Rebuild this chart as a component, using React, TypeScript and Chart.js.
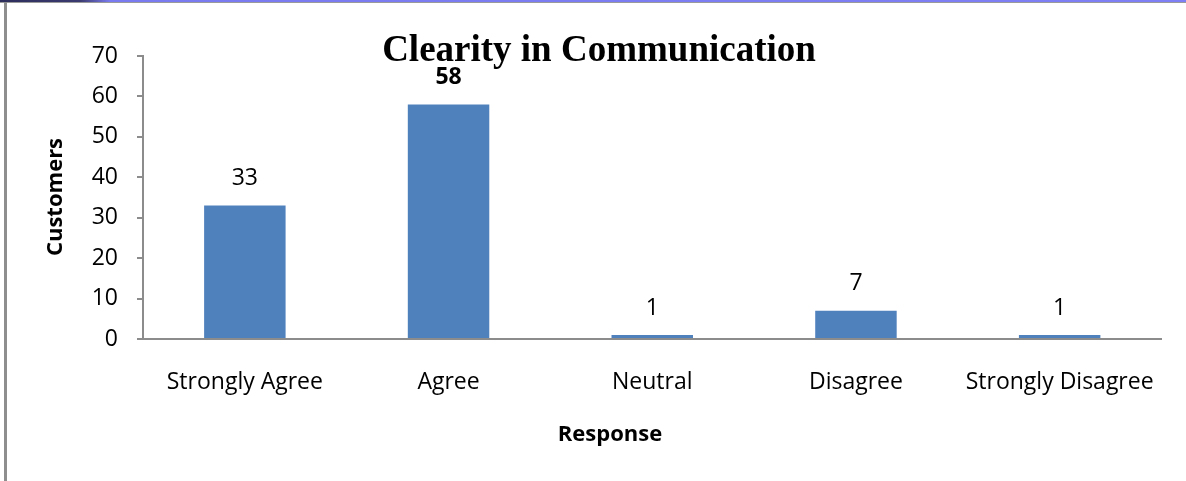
import React, { useEffect, useRef } from "react";
import { Chart, registerables } from "chart.js";

Chart.register(...registerables);

const categories: string[] = ["Strongly Agree", "Agree", "Neutral", "Disagree", "Strongly Disagree"];
const customers: number[] = [33, 58, 1, 7, 1];
const yTicks: number[] = [0, 10, 20, 30, 40, 50, 60, 70];
const chartTitle = "Clearity in Communication";
const xTitle = "Response";
const yTitle = "Customers";

const SANS = "'Open Sans', 'DejaVu Sans', sans-serif";

const overlayPlugin = {
  id: "overlay",
  afterDatasetsDraw(chart: any) {
    const ctx = chart.ctx;
    const meta = chart.getDatasetMeta(0);
    const data = chart.data.datasets[0].data as number[];
    const maxVal = Math.max(...data);
    ctx.save();
    ctx.fillStyle = "#000";
    ctx.textAlign = "center";
    ctx.textBaseline = "middle";
    meta.data.forEach((bar: any, i: number) => {
      const v = data[i];
      ctx.font = `${v === maxVal ? "bold " : ""}23px ${SANS}`;
      ctx.fillText(String(v), bar.x, bar.y - 27);
    });
    // title
    ctx.font = "bold 37px 'Liberation Serif', 'Times New Roman', serif";
    ctx.textBaseline = "alphabetic";
    ctx.fillText(chartTitle, 599, 61);
    // x axis title
    ctx.font = `bold 22px ${SANS}`;
    ctx.textBaseline = "middle";
    ctx.fillText(xTitle, 610, 435);
    // y axis title
    ctx.translate(56, 197);
    ctx.rotate(-Math.PI / 2);
    ctx.fillText(yTitle, 0, 0);
    ctx.restore();
  },
};

export default function App() {
  const ref = useRef<HTMLCanvasElement | null>(null);

  useEffect(() => {
    if (!ref.current) return;
    const chart = new Chart(ref.current, {
      type: "bar",
      data: {
        labels: categories,
        datasets: [
          {
            data: customers,
            backgroundColor: "#4f81bd",
            borderWidth: 0,
            barPercentage: 0.4,
            categoryPercentage: 1.0,
          },
        ],
      },
      options: {
        animation: false,
        responsive: false,
        maintainAspectRatio: false,
        layout: { padding: { left: 0, top: 56, right: 24, bottom: 0 } },
        plugins: {
          legend: { display: false },
          title: { display: false },
          tooltip: { enabled: false },
        },
        scales: {
          x: {
            afterFit: (s: any) => {
              s.height = 142;
            },
            grid: { display: false, drawTicks: false },
            border: { display: true, color: "#8c8c8c", width: 2 },
            ticks: {
              color: "#000",
              font: { family: SANS, size: 23 },
              padding: 30,
              maxRotation: 0,
              autoSkip: false,
            },
          },
          y: {
            min: 0,
            max: 70,
            afterFit: (s: any) => {
              s.width = 143;
            },
            afterBuildTicks: (s: any) => {
              s.ticks = yTicks.map((v) => ({ value: v }));
            },
            grid: {
              drawOnChartArea: false,
              drawTicks: true,
              tickLength: 6,
              color: "#8c8c8c",
              lineWidth: 2,
            },
            border: { display: true, color: "#8c8c8c", width: 2 },
            ticks: {
              color: "#000",
              font: { family: SANS, size: 23 },
              padding: 19,
            },
          },
        },
      },
      plugins: [overlayPlugin],
    });
    return () => chart.destroy();
  }, []);

  return (
    <div
      style={{
        position: "fixed",
        left: 0,
        top: 0,
        width: 1186,
        height: 481,
        background: "#fff",
        overflow: "hidden",
      }}
    >
      <div
        style={{
          position: "absolute",
          left: 0,
          top: 0,
          width: 1186,
          height: 2,
          background: "linear-gradient(to right, #2e2e5c 0px, #3a3a70 80px, #7a7af0 110px, #7f7ff5 100%)",
        }}
      />
      <div style={{ position: "absolute", left: 0, top: 2, width: 1186, height: 1, background: "#9a9a9a" }} />
      <div style={{ position: "absolute", left: 4, top: 2, width: 3, height: 479, background: "#8e8e8e" }} />
      <canvas ref={ref} width={1186} height={481} style={{ position: "absolute", left: 0, top: 0, width: 1186, height: 481 }} />
    </div>
  );
}
